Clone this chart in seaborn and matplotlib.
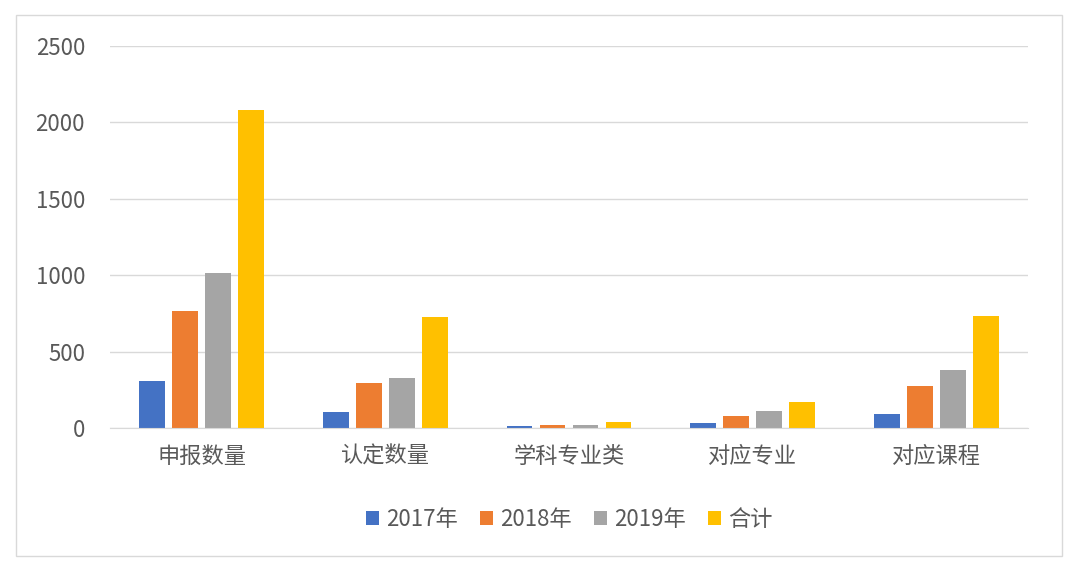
import matplotlib
matplotlib.use("Agg")
import matplotlib.pyplot as plt
import seaborn as sns
import pandas as pd

categories = ["申报数量", "认定数量", "学科专业类", "对应专业", "对应课程"]
series = ["2017年", "2018年", "2019年", "合计"]
v2017 = [307, 105, 10, 33, 92]
v2018 = [766, 295, 20, 79, 275]
v2019 = [1014, 327, 22, 111, 380]
vtotal = [2081, 727, 40, 170, 733]
colors = ["#4472C4", "#ED7D31", "#A5A5A5", "#FFC000"]

rows = []
for s, vals in zip(series, [v2017, v2018, v2019, vtotal]):
    for c, v in zip(categories, vals):
        rows.append({"cat": c, "series": s, "value": v})
df = pd.DataFrame(rows)

plt.rcParams["font.family"] = ["Noto Sans CJK SC"]
fig = plt.figure(figsize=(10.8, 5.68), dpi=100)
ax = fig.add_axes([110/1080, 1-428/568, 918/1080, 382/568])
sns.barplot(data=df, x="cat", y="value", hue="series", palette=colors,
            ax=ax, width=0.72, gap=0.22, saturation=1)
ax.set_ylim(0, 2500)
ax.set_yticks(range(0, 2501, 500))
ax.set_xlabel(""); ax.set_ylabel("")
ax.grid(axis="y", color="#D9D9D9", linewidth=1)
ax.set_axisbelow(True)
for sp in ["top", "right", "left"]:
    ax.spines[sp].set_visible(False)
ax.spines["bottom"].set_color("#D9D9D9")
ax.tick_params(axis="both", length=0, labelsize=16, labelcolor="#595959")
ax.tick_params(axis="y", pad=18)
ax.tick_params(axis="x", pad=12)
ax.legend(loc="center", bbox_to_anchor=(0.5, -0.24), ncol=4, frameon=False,
          fontsize=16, handlelength=0.6, handleheight=0.6, columnspacing=1.0,
          handletextpad=0.3, labelcolor="#595959")
fig.patches.append(plt.Rectangle((16/1080, 1-556/568), 1046/1080, 541/568,
                                 transform=fig.transFigure, fill=False,
                                 edgecolor="#D9D9D9", linewidth=1))
fig.savefig("out.png", dpi=100)
